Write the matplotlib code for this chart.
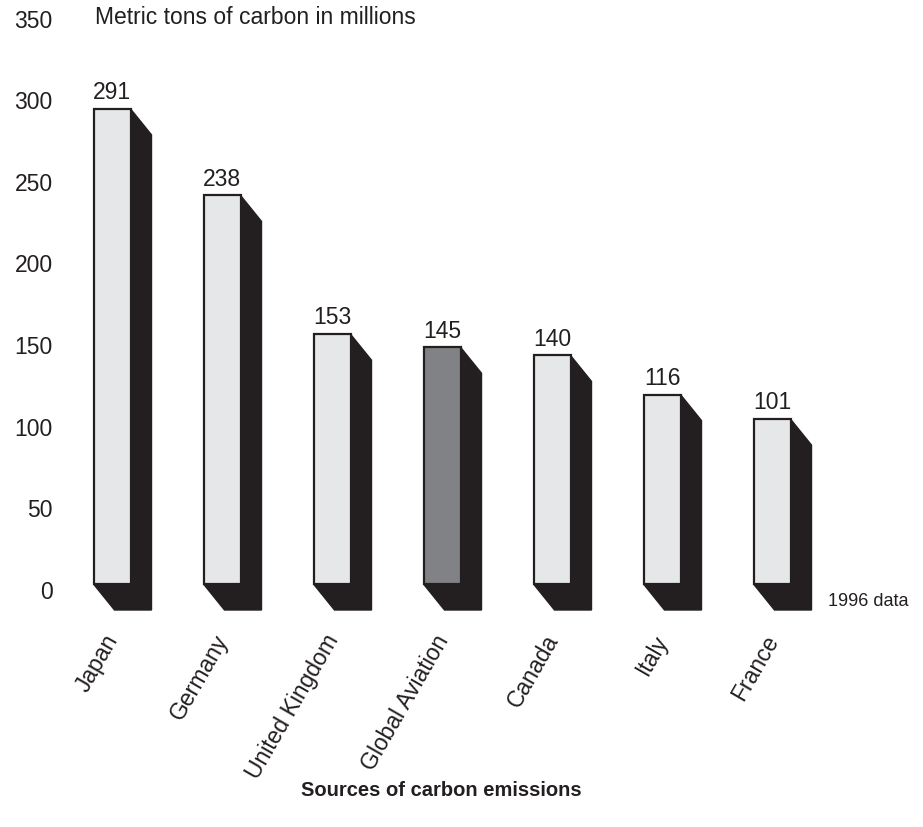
import matplotlib
matplotlib.use("Agg")
import matplotlib.pyplot as plt
from matplotlib.patches import Polygon, Rectangle
from matplotlib.transforms import ScaledTranslation

categories = ["Japan", "Germany", "United Kingdom", "Global Aviation", "Canada", "Italy", "France"]
values = [291, 238, 153, 145, 140, 116, 101]
highlight = "Global Aviation"
yticks = [0, 50, 100, 150, 200, 250, 300, 350]

plt.rcParams['font.family'] = ['Liberation Sans', 'DejaVu Sans']

W, H = 923, 828
fig = plt.figure(figsize=(W / 100, H / 100), dpi=100)
# axes: x pixels 57..827, y pixels 13.5 (350) .. 585 (0)
left, right = 57, 827
top, bottom = 13.5, 585
ax = fig.add_axes([left / W, 1 - bottom / H, (right - left) / W, (bottom - top) / H])
ax.set_xlim(-0.5, len(categories) - 0.5)
ax.set_ylim(0, 350)
for s in ax.spines.values():
    s.set_visible(False)

px_x = (len(categories)) / (right - left)   # data units per pixel in x
px_y = 350 / (bottom - top)                  # data units per pixel in y
dx = 21 * px_x
dy = 26 * px_y
bw = 37 * px_x

black = "#231f20"
light = "#e6e7e8"
dark = "#808285"

for i, (c, v) in enumerate(zip(categories, values)):
    x0 = i - bw / 2
    x1 = i + bw / 2
    shadow = Polygon([(x0, 0), (x0 + dx, -dy), (x1 + dx, -dy), (x1 + dx, v - dy),
                      (x1, v), (x1, 0)], closed=True, facecolor=black,
                     edgecolor=black, lw=1, clip_on=False, zorder=2)
    ax.add_patch(shadow)
    face = Rectangle((x0, 0), bw, v, facecolor=dark if c == highlight else light,
                     edgecolor=black, lw=1.6, clip_on=False, zorder=3)
    ax.add_patch(face)
    ax.text(i, v + 3.5, str(v), ha="center", va="bottom", fontsize=16.5,
            color=black, zorder=4)
    ax.text(i - 0.08, -28, c, ha="right", va="top", rotation=60,
            rotation_mode="anchor", fontsize=16.5, color=black)

ax.set_xticks([])
ax.set_yticks(yticks)
ax.set_yticklabels([str(t) for t in yticks])
ax.tick_params(axis="y", length=0, pad=3, labelsize=16.5, labelcolor=black)
off = ScaledTranslation(0, -5 / 100, fig.dpi_scale_trans)
for lab in ax.get_yticklabels():
    lab.set_transform(lab.get_transform() + off)

fig.text(95 / W, 1 - 17 / H, "Metric tons of carbon in millions", ha="left",
         va="center", fontsize=16.5, color=black)
fig.text(828 / W, 1 - 602 / H, "1996 data", ha="left", va="center",
         fontsize=13, color=black)
fig.text(441 / W, 1 - 791 / H, "Sources of carbon emissions", ha="center",
         va="center", fontsize=14.5, fontweight="bold", color=black)

fig.savefig("out.png", dpi=100)
